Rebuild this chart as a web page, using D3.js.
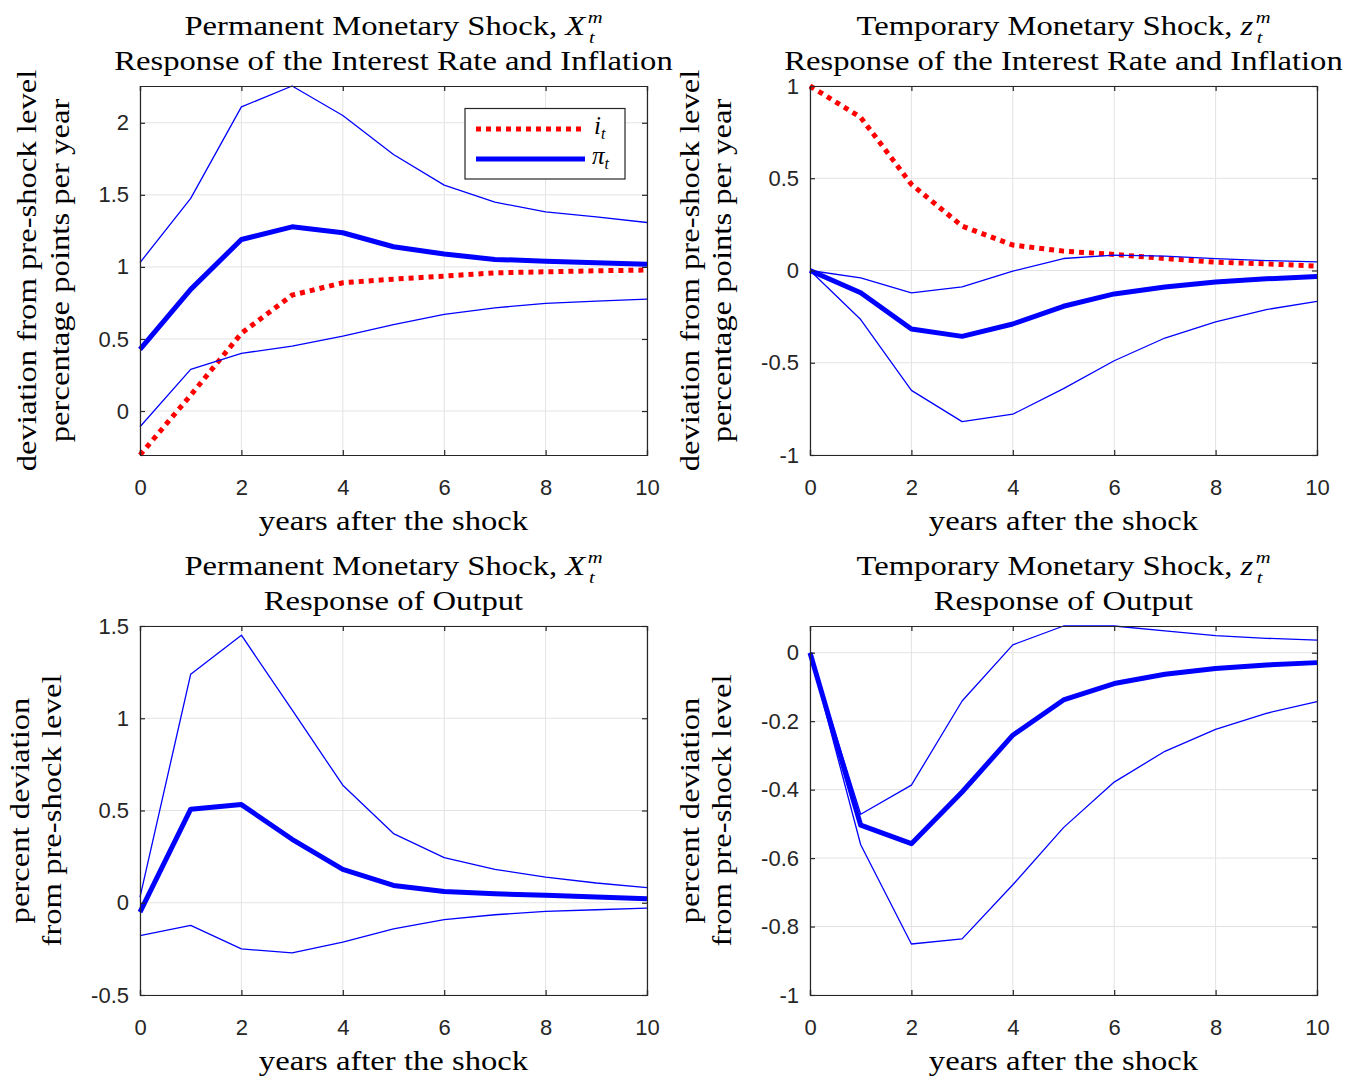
<!DOCTYPE html>
<html>
<head>
<meta charset="utf-8">
<script src="https://cdn.jsdelivr.net/npm/d3@7"></script>
<style>
  html, body { margin: 0; padding: 0; background: #fff; }
  svg { display: block; }
</style>
</head>
<body>
<script>
// ---------- data ----------
const years = [0, 1, 2, 3, 4, 5, 6, 7, 8, 9, 10];

// Permanent monetary shock: interest rate and inflation
const permI      = [-0.305, 0.11, 0.539, 0.804, 0.89, 0.915, 0.936, 0.959, 0.966, 0.973, 0.978];
const permPi     = [0.428, 0.844, 1.19, 1.278, 1.237, 1.14, 1.089, 1.052, 1.04, 1.028, 1.019];
const permPiUp   = [1.03, 1.475, 2.11, 2.255, 2.05, 1.78, 1.567, 1.449, 1.382, 1.347, 1.308];
const permPiLo   = [-0.109, 0.289, 0.4, 0.451, 0.52, 0.6, 0.671, 0.716, 0.747, 0.763, 0.777];

// Temporary monetary shock: interest rate and inflation
const tempI      = [1.0, 0.83, 0.467, 0.241, 0.138, 0.105, 0.087, 0.065, 0.045, 0.036, 0.024];
const tempPi     = [0, -0.121, -0.317, -0.357, -0.29, -0.194, -0.127, -0.089, -0.062, -0.045, -0.033];
const tempPiUp   = [0, -0.04, -0.121, -0.089, -0.004, 0.065, 0.083, 0.078, 0.064, 0.054, 0.047];
const tempPiLo   = [0, -0.266, -0.65, -0.819, -0.779, -0.64, -0.489, -0.366, -0.279, -0.212, -0.167];

// Permanent monetary shock: output
const permY      = [-0.051, 0.507, 0.532, 0.344, 0.181, 0.094, 0.061, 0.049, 0.04, 0.031, 0.022];
const permYUp    = [0.03, 1.239, 1.45, 1.045, 0.637, 0.375, 0.245, 0.181, 0.139, 0.107, 0.082];
const permYLo    = [-0.178, -0.123, -0.25, -0.272, -0.214, -0.141, -0.092, -0.065, -0.047, -0.038, -0.029];

// Temporary monetary shock: output
const tempY      = [0, -0.504, -0.558, -0.407, -0.241, -0.138, -0.09, -0.063, -0.046, -0.036, -0.029];
const tempYUp    = [0, -0.472, -0.387, -0.141, 0.023, 0.078, 0.078, 0.064, 0.05, 0.042, 0.037];
const tempYLo    = [0, -0.561, -0.851, -0.836, -0.678, -0.511, -0.378, -0.288, -0.224, -0.177, -0.143];

// axis ticks
const xTicks       = [0, 2, 4, 6, 8, 10];
const yTicksPermIP = [0, 0.5, 1, 1.5, 2];
const yTicksTempIP = [-1, -0.5, 0, 0.5, 1];
const yTicksPermY  = [-0.5, 0, 0.5, 1, 1.5];
const yTicksTempY  = [-1, -0.8, -0.6, -0.4, -0.2, 0];

// text
const titlePerm = "Permanent Monetary Shock, ";
const titleTemp = "Temporary Monetary Shock, ";
const subIP = "Response of the Interest Rate and Inflation";
const subY  = "Response of Output";
const yLabIP = ["deviation from pre-shock level", "percentage points per year"];
const yLabY  = ["percent deviation", "from pre-shock level"];
const xLab = "years after the shock";

// ---------- drawing ----------
const W = 1347, H = 1077;
const svg = d3.select("body").append("svg").attr("width", W).attr("height", H);

const SERIF = "'Liberation Serif', 'Times New Roman', serif";
const SANS = "'Liberation Sans', Arial, Helvetica, sans-serif";
const AX = "#262626";
const GRID = "#e3e3e3";
const BLUE = "#0000ff";
const RED = "#ff0000";
const SX = 1.21;       // horizontal stretch to mimic the wider LaTeX serif
const TITLE_FS = 27;

const panels = [
  { left: 140, top: 86, w: 507, h: 369, yDomain: [-0.305, 2.255], yTicks: yTicksPermIP,
    t1: titlePerm, sym: "X", t2: subIP, yLab: yLabIP, labX: [27, 60],
    red: permI, pi: permPi, up: permPiUp, lo: permPiLo, legend: true },
  { left: 810, top: 86, w: 507, h: 369, yDomain: [-1, 1], yTicks: yTicksTempIP,
    t1: titleTemp, sym: "z", t2: subIP, yLab: yLabIP, labX: [690, 722],
    red: tempI, pi: tempPi, up: tempPiUp, lo: tempPiLo },
  { left: 140, top: 626, w: 507, h: 369, yDomain: [-0.5, 1.5], yTicks: yTicksPermY,
    t1: titlePerm, sym: "X", t2: subY, yLab: yLabY, labX: [20, 52],
    pi: permY, up: permYUp, lo: permYLo },
  { left: 810, top: 626, w: 507, h: 369, yDomain: [-1, 0.078], yTicks: yTicksTempY,
    t1: titleTemp, sym: "z", t2: subY, yLab: yLabY, labX: [690, 722],
    pi: tempY, up: tempYUp, lo: tempYLo }
];

const fmt = d => String(+d.toFixed(2));

function serifText(parent, cx, y, str, rotate) {
  const gg = parent.append("g")
    .attr("transform", rotate
      ? `translate(${cx},${y}) rotate(-90) scale(${SX},1)`
      : `translate(${cx},${y}) scale(${SX},1)`);
  const t = gg.append("text").attr("x", 0).attr("y", 0).attr("text-anchor", "middle")
    .attr("font-family", SERIF).attr("font-size", TITLE_FS).attr("fill", "#000").text(str);
  if (rotate) t.attr("dominant-baseline", "central");
  return t;
}

panels.forEach(p => {
  const x = d3.scaleLinear().domain([0, 10]).range([p.left, p.left + p.w]);
  const y = d3.scaleLinear().domain(p.yDomain).range([p.top + p.h, p.top]);
  const g = svg.append("g");
  const cx = p.left + p.w / 2;

  // grid
  g.append("g").selectAll("line").data(xTicks).join("line")
    .attr("x1", d => x(d)).attr("x2", d => x(d))
    .attr("y1", p.top).attr("y2", p.top + p.h)
    .attr("stroke", GRID).attr("stroke-width", 1);
  g.append("g").selectAll("line").data(p.yTicks).join("line")
    .attr("x1", p.left).attr("x2", p.left + p.w)
    .attr("y1", d => y(d)).attr("y2", d => y(d))
    .attr("stroke", GRID).attr("stroke-width", 1);

  const xAxis = d3.axisBottom(x).tickValues(xTicks).tickFormat(fmt).tickSize(-5).tickPadding(24);
  const xAxisTop = d3.axisTop(x).tickValues(xTicks).tickFormat("").tickSize(-5);
  const yAxis = d3.axisLeft(y).tickValues(p.yTicks).tickFormat(fmt).tickSize(-5).tickPadding(11);
  const yAxisR = d3.axisRight(y).tickValues(p.yTicks).tickFormat("").tickSize(-5);

  const style = sel => {
    sel.selectAll("path").attr("stroke", AX).attr("stroke-width", 1.2);
    sel.selectAll("line").attr("stroke", AX).attr("stroke-width", 1.2);
    sel.selectAll("text").attr("fill", AX).style("font-family", SANS).style("font-size", "22px");
  };

  const lineGen = d3.line().x((d, i) => x(years[i])).y(d => y(d));

  if (p.red) {
    g.append("path").datum(p.red).attr("d", lineGen)
      .attr("fill", "none").attr("stroke", RED).attr("stroke-width", 5)
      .attr("stroke-dasharray", "5,5");
  }
  [p.up, p.lo].forEach(s => {
    g.append("path").datum(s).attr("d", lineGen)
      .attr("fill", "none").attr("stroke", BLUE).attr("stroke-width", 1.3)
      .attr("stroke-linejoin", "round");
  });
  g.append("path").datum(p.pi).attr("d", lineGen)
    .attr("fill", "none").attr("stroke", BLUE).attr("stroke-width", 5)
    .attr("stroke-linejoin", "round");

  g.append("g").attr("transform", `translate(0,${p.top + p.h})`).call(xAxis).call(style);
  g.append("g").attr("transform", `translate(0,${p.top})`).call(xAxisTop).call(style);
  g.append("g").attr("transform", `translate(${p.left},0)`).call(yAxis).call(style);
  g.append("g").attr("transform", `translate(${p.left + p.w},0)`).call(yAxisR).call(style);

  // title line 1 with X_t^m / z_t^m as one text element
  const ty1 = p.top - 51, ty2 = p.top - 16;
  const scriptFs = 17;
  const tg = g.append("g").attr("transform", `translate(${cx},${ty1}) scale(${SX},1)`);
  const t1 = tg.append("text").attr("y", 0).attr("font-family", SERIF)
    .attr("font-size", TITLE_FS).attr("fill", "#000");
  t1.append("tspan").text(p.t1);
  t1.append("tspan").attr("font-style", "italic").text(p.sym);
  const w1 = t1.node().getComputedTextLength();
  t1.append("tspan").attr("font-style", "italic").attr("font-size", scriptFs)
    .attr("dx", 2).attr("dy", -12).text("m");
  const wAll = t1.node().getComputedTextLength();
  const wm = wAll - w1;
  t1.append("tspan").attr("font-style", "italic").attr("font-size", scriptFs)
    .attr("dx", -wm + 1).attr("dy", 20).text("t");
  const total = w1 + 2 + wm;
  t1.attr("x", -total / 2);

  serifText(g, cx, ty2, p.t2);
  serifText(g, cx, p.top + p.h + 75, xLab);

  const cy = p.top + p.h / 2;
  p.yLab.forEach((s, i) => serifText(g, p.labX[i], cy, s, true));

  if (p.legend) {
    const lg = g.append("g");
    lg.append("rect").attr("x", 465).attr("y", 108.5).attr("width", 160).attr("height", 70.5)
      .attr("fill", "#fff").attr("stroke", AX).attr("stroke-width", 1.2);
    lg.append("line").attr("x1", 476).attr("x2", 585).attr("y1", 129).attr("y2", 129)
      .attr("stroke", RED).attr("stroke-width", 5).attr("stroke-dasharray", "5,5");
    lg.append("line").attr("x1", 476).attr("x2", 585).attr("y1", 159).attr("y2", 159)
      .attr("stroke", BLUE).attr("stroke-width", 5);
    const li = lg.append("text").attr("x", 594).attr("y", 134).attr("font-family", SERIF)
      .attr("font-size", 25).attr("font-style", "italic");
    li.append("tspan").text("i");
    li.append("tspan").attr("font-size", 16).attr("dy", 5).text("t");
    const lp = lg.append("text").attr("x", 592).attr("y", 164).attr("font-family", SERIF)
      .attr("font-size", 25).attr("font-style", "italic");
    lp.append("tspan").text("π");
    lp.append("tspan").attr("font-size", 16).attr("dy", 5).text("t");
  }
});
</script>
</body>
</html>
